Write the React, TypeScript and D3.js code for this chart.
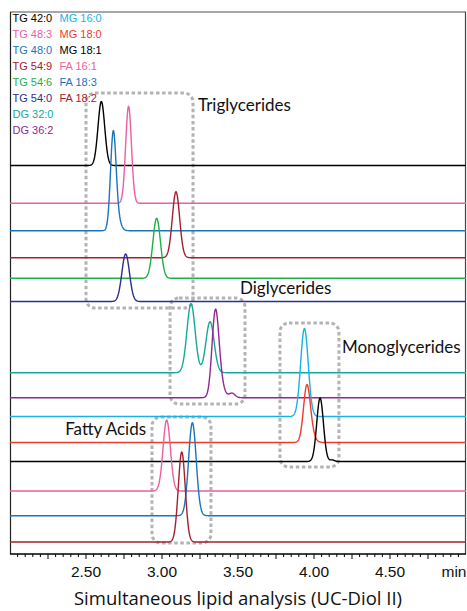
import React from "react";
import * as d3 from "d3";

// ---- Data ----
const timeDomain: [number, number] = [2.0, 5.0];
const intensityDomain: [number, number] = [0, 542];

const traceNames = [
  "TG 42:0", "TG 48:3", "TG 48:0", "TG 54:9", "TG 54:6", "TG 54:0", "DG 32:0", "DG 36:2",
  "MG 16:0", "MG 18:0", "MG 18:1", "FA 16:1", "FA 18:3", "FA 18:2",
];
const traceColors = [
  "#000000", "#ec5fa0", "#1b75bb", "#a3202f", "#1fae4a", "#2b2f8e", "#14a99b", "#93278f",
  "#17b2e8", "#ee3b2b", "#000000", "#ec5fa0", "#1b75bb", "#a3202f",
];
// baseline offset of each stacked trace (intensity units)
const baselineOffsets = [388.5, 350.7, 323.3, 296.3, 275.7, 252.5, 181.3, 156.3, 137.5, 111.5, 92.5, 63, 38.3, 12];
// peaks per trace: retention time (min), height, width (sigma, min)
const peakTimes = [
  [2.601], [2.78], [2.679, 2.705], [3.092], [2.965], [2.761], [3.191, 3.316], [3.35, 3.378, 3.46],
  [3.937], [3.952, 3.975], [4.04, 4.12], [3.031], [3.2], [3.13],
];
const peakHeights = [
  [64], [97], [94, 12], [66], [60], [47.5], [69, 51], [78, 18, 4.5],
  [88], [51, 10], [63.5, 1.5], [71], [93], [90],
];
const peakWidths = [
  [0.022], [0.019], [0.018, 0.022], [0.024], [0.025], [0.025], [0.027, 0.027], [0.022, 0.026, 0.02],
  [0.025], [0.022, 0.026], [0.022, 0.015], [0.024], [0.025], [0.023],
];

const groupLabels = ["Triglycerides", "Diglycerides", "Monoglycerides", "Fatty Acids"];
const groupLabelTimes = [3.237, 3.513, 4.184, 2.895];
const groupLabelIntensities = [443, 260, 201, 119];
const groupLabelAnchors = ["start", "start", "start", "end"];
// dashed group boxes: [t0, t1], [i0, i1]
const boxTimes = [[2.5, 3.204], [3.053, 3.546], [3.776, 4.164], [2.934, 3.322]];
const boxIntensities = [[246, 461], [150, 256], [87, 231], [11, 137]];

const majorTicks = [2.5, 3.0, 3.5, 4.0, 4.5];
const axisUnit = "min";
const title = "Simultaneous lipid analysis (UC-Diol II)";

// ---- Layout ----
const W = 467;
const H = 611;
const left = 10;
const right = 466;
const top = 12;
const bottom = 554;

export default function App() {
  const x = d3.scaleLinear().domain(timeDomain).range([left, right]);
  const y = d3.scaleLinear().domain(intensityDomain).range([bottom, top]);

  const samples = d3.range(timeDomain[0], timeDomain[1] + 1e-9, 0.0025);

  const line = d3
    .line<[number, number]>()
    .x((d) => x(d[0]))
    .y((d) => y(d[1]));

  const traces = traceNames.map((name, i) => {
    const pts: [number, number][] = samples.map((t) => {
      let v = baselineOffsets[i];
      peakTimes[i].forEach((pt, k) => {
        const s = peakWidths[i][k];
        v += peakHeights[i][k] * Math.exp(-((t - pt) * (t - pt)) / (2 * s * s));
      });
      return [t, v];
    });
    return { name, color: traceColors[i], d: line(pts) || "" };
  });

  const minorTicks = d3.range(2.05, 4.999, 0.05);

  const font = "Lato, 'Noto Sans', sans-serif";
  const titleFont = "'Open Sans', 'Noto Sans', sans-serif";
  const axisFont = "'Liberation Sans', Arial, sans-serif";

  return (
    <svg
      width={W}
      height={H}
      style={{ position: "absolute", left: 0, top: 0, background: "#fff" }}
      xmlns="http://www.w3.org/2000/svg"
    >
      <defs>
        <clipPath id="plotclip">
          <rect x={left} y={top} width={right - left} height={bottom - top} />
        </clipPath>
      </defs>

      {/* frame */}
      <line x1={left} x2={right} y1={top} y2={top} stroke="#8a8a8a" strokeWidth={1.6} />
      <line x1={left + 0.5} x2={left + 0.5} y1={top} y2={bottom} stroke="#222" strokeWidth={1.2} />
      <line x1={right - 0.5} x2={right - 0.5} y1={top} y2={bottom} stroke="#444" strokeWidth={1.2} />

      {/* dashed boxes */}
      {boxTimes.map((bt, i) => (
        <rect
          key={"box" + i}
          x={x(bt[0])}
          y={y(boxIntensities[i][1])}
          width={x(bt[1]) - x(bt[0])}
          height={y(boxIntensities[i][0]) - y(boxIntensities[i][1])}
          rx={9}
          ry={9}
          fill="none"
          stroke="#b3b3b3"
          strokeWidth={3}
          strokeDasharray="3.5 2.6"
        />
      ))}

      {/* traces */}
      <g clipPath="url(#plotclip)">
        {traces.map((tr) => (
          <path key={tr.name} d={tr.d} fill="none" stroke={tr.color} strokeWidth={1.4} strokeLinejoin="round" />
        ))}
      </g>

      {/* group labels */}
      {groupLabels.map((g, i) => (
        <text
          key={g}
          x={x(groupLabelTimes[i])}
          y={y(groupLabelIntensities[i])}
          textAnchor={groupLabelAnchors[i]}
          fontFamily={font}
          fontSize={17}
          fill="#111"
        >
          {g}
        </text>
      ))}

      {/* legend */}
      {traceNames.map((n, i) => {
        const col = i < 8 ? 0 : 1;
        const row = i < 8 ? i : i - 8;
        return (
          <text
            key={"leg" + n}
            x={col === 0 ? 12.5 : 59.5}
            y={22 + row * 16}
            fontFamily={axisFont}
            fontSize={11}
            fill={traceColors[i]}
          >
            {n}
          </text>
        );
      })}

      {/* x axis */}
      <line x1={left} x2={right} y1={bottom} y2={bottom} stroke="#000" strokeWidth={1.5} />
      {minorTicks.map((t) => {
        const isMajor = Math.abs(t * 4 - Math.round(t * 4)) < 1e-6;
        return (
          <line
            key={"mt" + t.toFixed(2)}
            x1={x(t)}
            x2={x(t)}
            y1={bottom}
            y2={bottom + (isMajor ? 5 : 3)}
            stroke="#000"
            strokeWidth={1}
          />
        );
      })}
      {majorTicks.map((t) => (
        <text
          key={"tl" + t}
          x={x(t)}
          y={577}
          textAnchor="middle"
          fontFamily={axisFont}
          fontSize={15.5}
          fill="#111"
        >
          {t.toFixed(2)}
        </text>
      ))}
      <text x={454} y={577} textAnchor="middle" fontFamily={axisFont} fontSize={15.5} fill="#111">
        {axisUnit}
      </text>

      {/* title */}
      <text x={238} y={605} textAnchor="middle" fontFamily={titleFont} fontSize={18.5} fill="#111">
        {title}
      </text>
    </svg>
  );
}
